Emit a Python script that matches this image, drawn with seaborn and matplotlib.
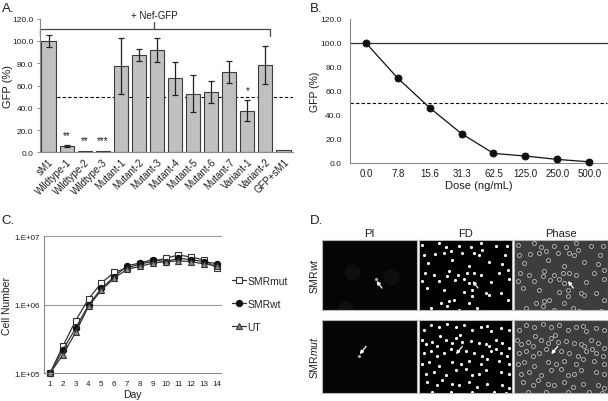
import numpy as np
import pandas as pd
import matplotlib
matplotlib.use("Agg")
import matplotlib.pyplot as plt
import seaborn as sns

# panel A: silencing by each construct (+ Nef-GFP)
constructs = ["sM1", "Wildtype-1", "Wildtype-2", "Wildtype-3", "Mutant-1", "Mutant-2",
              "Mutant-3", "Mutant-4", "Mutant-5", "Mutant-6", "Mutant-7", "Variant-1",
              "Variant-2", "GFP+sM1"]
gfp_mean = [100.0, 5.7, 1.6, 1.6, 77.4, 87.6, 92.2, 66.4, 52.8, 54.1, 72.1, 37.4, 78.4, 1.8]
gfp_err = [5.2, 0.5, 0.0, 0.0, 25.4, 5.2, 10.7, 15.0, 16.7, 10.1, 10.0, 9.6, 17.3, 0.0]
stars = ["", "**", "**", "***", "", "", "", "", "", "", "", "*", "", ""]

# panel B: dose response
doses = ["0.0", "7.8", "15.6", "31.3", "62.5", "125.0", "250.0", "500.0"]
dose_gfp = [100.0, 70.6, 46.0, 24.4, 8.0, 5.8, 3.0, 1.0]

# panel C: growth curves
days = list(range(1, 15))
smr_mut = [1.0e5, 2.48e5, 5.87e5, 1.22e6, 2.08e6, 2.98e6, 3.44e6, 3.94e6, 4.31e6, 4.77e6,
           5.33e6, 4.99e6, 4.5e6, 3.41e6]
smr_wt = [1.0e5, 2.17e5, 4.57e5, 9.9e5, 1.74e6, 2.57e6, 3.72e6, 4.07e6, 4.56e6, 4.26e6,
          4.78e6, 4.56e6, 4.26e6, 3.98e6]
ut = [1.0e5, 1.85e5, 3.96e5, 9.5e5, 1.64e6, 2.45e6, 3.3e6, 3.63e6, 4.07e6, 4.27e6,
      4.37e6, 4.27e6, 3.94e6, 3.72e6]

# panel D: approximate cell positions in the fields (image coords, 280 wide)
wt_x = [10, 60, 80, 120, 155, 185, 190, 230, 258, 265, 15, 48, 75, 95, 130, 165, 180, 28, 100,
        150, 210, 250, 268, 18, 45, 85, 90, 118, 145, 165, 185, 240, 10, 60, 108, 135, 150, 215,
        270, 25, 75, 135, 160, 200, 210, 245, 268, 65, 90, 105, 35, 85, 120, 175, 195, 150, 260, 160]
wt_y = [15, 10, 22, 20, 22, 10, 30, 20, 45, 20, 45, 42, 40, 35, 40, 40, 45, 70, 62,
        80, 68, 72, 90, 100, 105, 108, 95, 105, 100, 100, 105, 100, 125, 125, 120, 118, 130, 128,
        118, 145, 150, 158, 150, 160, 165, 160, 180, 190, 185, 180, 205, 200, 210, 205, 215, 190, 215, 170]
mut_x = [15, 35, 60, 85, 110, 135, 160, 185, 205, 215, 245, 270, 20, 40, 55, 80, 100, 110, 130,
         155, 180, 200, 210, 230, 250, 270, 15, 35, 55, 75, 95, 140, 165, 190, 215, 245, 265, 10,
         30, 60, 100, 125, 150, 185, 205, 240, 270, 20, 45, 80, 110, 140, 160, 180, 200, 245, 270,
         25, 55, 70, 100, 120, 150, 175, 205, 250, 270, 40, 95, 160, 225, 262, 62, 122, 232, 8]
mut_y = [30, 15, 20, 12, 20, 15, 30, 20, 18, 35, 25, 30, 75, 68, 80, 60, 70, 55, 68,
         65, 72, 75, 80, 60, 70, 85, 100, 95, 110, 100, 90, 95, 100, 110, 95, 100, 110, 135,
         130, 140, 130, 135, 125, 135, 120, 125, 135, 165, 160, 170, 155, 150, 170, 165, 155, 160, 165,
         190, 200, 185, 195, 200, 190, 205, 195, 200, 210, 220, 222, 222, 220, 225, 48, 45, 90, 60]

W, H = 608, 402


def px_rect(x0, y0, x1, y1):
    return [x0 / W, 1 - y1 / H, (x1 - x0) / W, (y1 - y0) / H]


sns.set_theme(style="white")
plt.rcParams["font.family"] = ["Liberation Sans", "DejaVu Sans"]
plt.rcParams["mathtext.fontset"] = "custom"
plt.rcParams["mathtext.rm"] = "Liberation Sans"
plt.rcParams["mathtext.it"] = "Liberation Sans:italic"

fig = plt.figure(figsize=(W / 100, H / 100), dpi=100, facecolor="white")
spine_col = "#8a8a8a"
txt_col = "#1e1e1e"

# ---------------- A ----------------
axA = fig.add_axes(px_rect(39.5, 19.7, 292.5, 153.3))
df_a = pd.DataFrame({"Construct": constructs, "GFP": gfp_mean, "err": gfp_err})
axA.axhline(50, color="black", lw=0.8, ls=(0, (3, 2)), zorder=0)
sns.barplot(data=df_a, x="Construct", y="GFP", color="#c0c0c0", saturation=1,
            edgecolor="#3c3c3c", linewidth=0.8, width=0.78, ax=axA, zorder=2)
has_err = df_a["err"] > 0
axA.errorbar(np.arange(len(constructs))[has_err], df_a["GFP"][has_err], yerr=df_a["err"][has_err],
             fmt="none", ecolor="#222222", elinewidth=0.9, capsize=2, capthick=0.9, zorder=3)
for i, s in enumerate(stars):
    if s:
        axA.text(i, gfp_mean[i] + gfp_err[i] + 6.5, s, ha="center", va="baseline",
                 fontsize=7, color=txt_col)
axA.plot([-0.45, -0.45, 12.26, 12.26], [104.6, 110.8, 110.8, 104.6], color="#444444",
         lw=0.9, clip_on=False)
axA.plot([5.84, 5.84], [110.8, 117.0], color="#444444", lw=0.9, clip_on=False)
axA.text(5.84, 123.5, "+ Nef-GFP", ha="center", va="center", fontsize=7, color=txt_col)
axA.set_xlim(-0.5, 13.5)
axA.set_ylim(0, 120)
axA.set_yticks(np.arange(0, 121, 20))
axA.set_yticklabels([f"{v:.1f}" for v in np.arange(0, 121, 20)], fontsize=6, color=txt_col)
axA.set_xticks(range(len(constructs)))
axA.set_xticklabels(constructs, rotation=45, ha="right", rotation_mode="anchor",
                    fontsize=7, color=txt_col)
axA.tick_params(axis="y", length=2.5, width=0.7, color=spine_col, pad=2, left=True)
axA.tick_params(axis="x", length=0, pad=3)
axA.set_xlabel("")
axA.set_ylabel("GFP (%)", fontsize=8, color=txt_col)
axA.yaxis.set_label_coords(-0.105, 0.5)
for sp in ["top", "right"]:
    axA.spines[sp].set_visible(False)
for sp in ["left", "bottom"]:
    axA.spines[sp].set_color(spine_col)
    axA.spines[sp].set_linewidth(0.8)

# ---------------- B ----------------
axB = fig.add_axes(px_rect(350, 20, 606.7, 164))
df_b = pd.DataFrame({"Dose": doses, "GFP": dose_gfp})
axB.axhline(100, color="#333333", lw=0.9, zorder=1)
axB.axhline(50, color="black", lw=0.8, ls=(0, (3, 2)), zorder=1)
sns.pointplot(data=df_b, x="Dose", y="GFP", color="#111111", markers="o", markersize=5,
              linewidth=0.9, errorbar=None, ax=axB, zorder=3)
for ln in axB.lines:
    ln.set_clip_on(False)
axB.set_xlim(-0.5, 7.55)
axB.set_ylim(0, 120)
axB.set_yticks(np.arange(0, 121, 20))
axB.set_yticklabels([f"{v:.1f}" for v in np.arange(0, 121, 20)], fontsize=6, color=txt_col)
axB.set_xticks(range(len(doses)))
axB.set_xticklabels(doses, fontsize=7, color=txt_col)
axB.tick_params(axis="both", length=0, pad=3.5)
axB.tick_params(axis="y", pad=6)
axB.set_xlabel("Dose (ng/mL)", fontsize=8, color=txt_col, va="center")
axB.xaxis.set_label_coords(0.5, -0.15)
axB.set_ylabel("GFP (%)", fontsize=7.5, color=txt_col)
axB.yaxis.set_label_coords(-0.117, 0.5)
for sp in ["top", "right"]:
    axB.spines[sp].set_visible(False)
for sp in ["left", "bottom"]:
    axB.spines[sp].set_color(spine_col)
    axB.spines[sp].set_linewidth(0.8)

# ---------------- C ----------------
axC = fig.add_axes(px_rect(44.3, 237.3, 221, 374.3))
axC.set_yscale("log")
for yv in [1e6, 1e7]:
    axC.axhline(yv, color="#9a9a9a", lw=0.8, zorder=0)
series = [("SMRmut", smr_mut, "s", "white", "#333333"),
          ("SMRwt", smr_wt, "o", "#111111", "#111111"),
          ("UT", ut, "^", "#8c8c8c", "#333333")]
for name, vals, mk, fc, ec in series:
    sns.lineplot(x=days, y=vals, ax=axC, color="#333333", lw=0.9, marker=mk,
                 markersize=4.5, markerfacecolor=fc, markeredgecolor=ec, markeredgewidth=0.8,
                 label=name)
for ln in axC.lines:
    ln.set_clip_on(False)
axC.set_xlim(0.56, 14.31)
axC.set_ylim(1e5, 1e7)
axC.yaxis.set_minor_locator(matplotlib.ticker.NullLocator())
axC.set_yticks([1e5, 1e6, 1e7])
axC.set_yticklabels(["1.E+05", "1.E+06", "1.E+07"], fontsize=5.8, color=txt_col)
axC.set_xticks(days)
axC.set_xticklabels([str(d) for d in days], fontsize=5.8, color=txt_col)
axC.tick_params(axis="both", length=0)
axC.tick_params(axis="x", pad=4.5)
axC.tick_params(axis="y", pad=3.5)
axC.set_xlabel("Day", fontsize=7.5, color=txt_col, va="center")
axC.xaxis.set_label_coords(0.5, -0.152)
axC.set_ylabel("Cell Number", fontsize=7.5, color=txt_col)
axC.yaxis.set_label_coords(-0.183, 0.5)
for sp in ["top", "right"]:
    axC.spines[sp].set_visible(False)
for sp in ["left", "bottom"]:
    axC.spines[sp].set_color(spine_col)
    axC.spines[sp].set_linewidth(0.8)
axC.legend(loc="center left", bbox_to_anchor=(232 / W, 1 - 305 / H), bbox_transform=fig.transFigure,
           frameon=False, fontsize=7.5, handlelength=1.3, handletextpad=0.2, labelspacing=1.25,
           borderpad=0, borderaxespad=0)

# ---------------- D ----------------
cols = [(322.3, 416.7), (419, 512.3), (514.3, 607.7)]
rows = [(240.7, 310.7), (321, 394.3)]
fields = [(wt_x, wt_y, 210, (177, 145), (161, 124), (160, 118)),
          (mut_x, mut_y, 225, (130, 81), (111, 105), (109, 110))]
col_names = ["PI", "FD", "Phase"]
row_names = ["SMR$\\mathit{wt}$", "SMR$\\mathit{mut}$"]
for r, (y0, y1) in enumerate(rows):
    cx, cy, hgt, tail, head, dot = fields[r]
    for c, (x0, x1) in enumerate(cols):
        ax = fig.add_axes(px_rect(x0, y0, x1, y1))
        if c == 0:
            ax.set_facecolor("#050505")
            if r == 0:
                sns.scatterplot(x=[88, 203, 68], y=[97, 112, 207], ax=ax, s=130,
                                color="#0e0e0e", linewidth=0, legend=False)
            sns.scatterplot(x=[dot[0]], y=[dot[1]], ax=ax, s=5, color="#a8a8a8",
                            linewidth=0, legend=False)
        elif c == 1:
            ax.set_facecolor("black")
            sns.scatterplot(x=cx, y=cy, ax=ax, s=5, color="white", linewidth=0, legend=False)
        else:
            ax.set_facecolor("#3d3d3d")
            sns.scatterplot(x=cx, y=cy, ax=ax, s=8, color="#2a2a2a", edgecolor="#a6a6a6",
                            linewidth=0.8, legend=False)
        ax.annotate("", xy=head, xytext=tail,
                    arrowprops=dict(arrowstyle="-|>", color="white", lw=0.9,
                                    mutation_scale=5, shrinkA=0, shrinkB=0))
        ax.set_xlim(0, 280)
        ax.set_ylim(hgt, 0)
        ax.set_xticks([])
        ax.set_yticks([])
        for sp in ax.spines.values():
            sp.set_color("#b5b5b5")
            sp.set_linewidth(0.8)
        if r == 0:
            ax.set_title(col_names[c], fontsize=8, color=txt_col, pad=3)
        if c == 0:
            ax.set_ylabel(row_names[r], fontsize=7.5, color=txt_col, labelpad=2)

# panel letters
for letter, xp, yp in [("A.", 2, 3), ("B.", 310, 3), ("C.", 1, 215), ("D.", 310, 215)]:
    fig.text(xp / W, 1 - yp / H, letter, fontsize=9.5, va="top", ha="left", color=txt_col)

fig.savefig("out.png", dpi=100, facecolor="white")
